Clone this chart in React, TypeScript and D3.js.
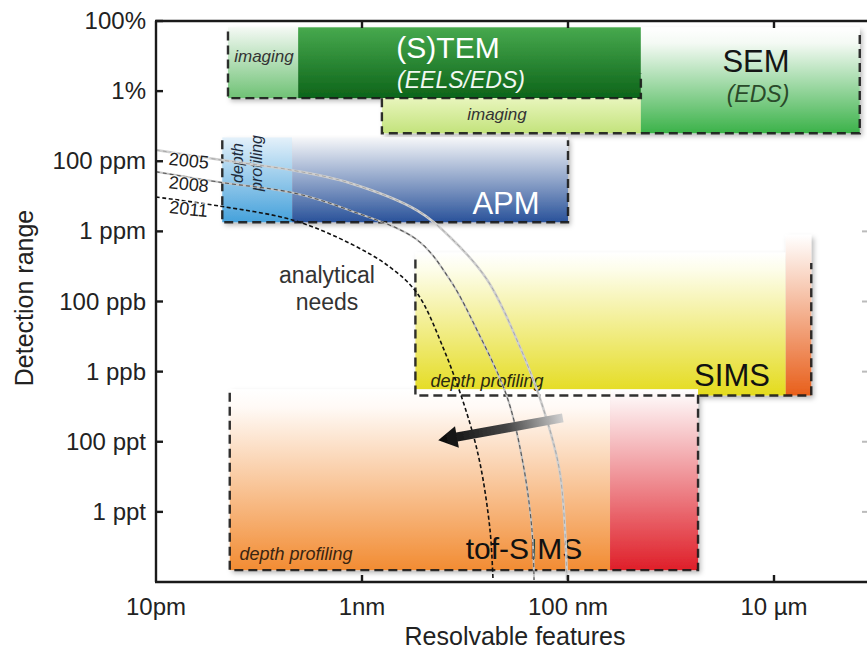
import React from 'react';
import * as d3 from 'd3';

// axis ticks
const xTickValues = [1e-11, 1e-9, 1e-7, 1e-5];
const xTickLabels = ['10pm', '1nm', '100 nm', '10 \u00b5m'];
const yTickLabels = ['100%', '1%', '100 ppm', '1 ppm', '100 ppb', '1 ppb', '100 ppt', '1 ppt'];

// filled regions: size in metres, y in tick-level units (0 = 100%, 1 = 1%, ...)
const regionNames = ['stemImaging', 'stem', 'semImaging', 'sem', 'apmDepth', 'apm', 'sims', 'simsStrip', 'tof', 'tofStrip'];
const regionXFrom = [5e-11, 2.4e-10, 1.56e-9, 5.1e-7, 4.4e-11, 2.1e-10, 3.3e-9, 1.3e-5, 5.2e-11, 2.56e-7];
const regionXTo = [2.4e-10, 5.1e-7, 5.1e-7, 6.8e-5, 2.1e-10, 1e-7, 1.3e-5, 2.3e-5, 2.56e-7, 1.83e-6];
const regionTop = [0.09, 0.09, 1.1, 0.09, 1.66, 1.66, 3.3, 3.05, 5.25, 5.25];
const regionBottom = [1.1, 1.1, 1.6, 1.6, 2.87, 2.87, 5.34, 5.34, 7.83, 7.83];

// dashed outlines (left, bottom, right)
const frameXFrom = [5e-11, 1.56e-9, 4.4e-11, 3.3e-9, 5.2e-11];
const frameXTo = [5.1e-7, 6.8e-5, 1e-7, 2.3e-5, 1.83e-6];
const frameLeftTop = [0.15, 1.1, 1.7, 3.4, 5.3];
const frameRightTop = [0.75, 0.2, 1.7, 3.45, 5.3];
const frameBottom = [1.1, 1.6, 2.87, 5.34, 7.83];

// "analytical needs" curves
const curveYears = ['2005', '2008', '2011'];
const curveSizes = [
  [1e-11, 4.18e-11, 2.14e-10, 7.6e-10, 3.42e-9, 7.14e-9, 1.64e-8, 3.42e-8, 5.71e-8, 8.36e-8, 9.77e-8],
  [1e-11, 4.18e-11, 2.14e-10, 7.6e-10, 3.42e-9, 7.14e-9, 1.31e-8, 2.56e-8, 3.66e-8, 4.47e-8, 4.68e-8],
  [1e-11, 4.18e-11, 2.14e-10, 7.6e-10, 1.87e-9, 3.42e-9, 6.1e-9, 1.04e-8, 1.4e-8, 1.75e-8, 1.87e-8],
];
const curveLevels = [
  [1.84, 1.98, 2.13, 2.31, 2.7, 3.08, 3.69, 4.65, 5.51, 6.45, 7.97],
  [2.15, 2.3, 2.45, 2.7, 3.12, 3.69, 4.41, 5.36, 6.31, 7.26, 7.97],
  [2.51, 2.64, 2.84, 3.17, 3.51, 3.88, 4.65, 5.59, 6.31, 7.26, 7.97],
];

// trend arrow (tail -> head)
const arrowSizes = [8.9e-8, 5.5e-9];
const arrowLevels = [5.66, 5.98];

const regionStops: Record<string, [number, string][]> = {
  stemImaging: [[0, '#f4f9f4'], [1, '#6fc275']],
  stem: [[0, '#47a94e'], [1, '#0d6419']],
  semImaging: [[0, '#e8f5bc'], [1, '#c3e37c']],
  sem: [[0, '#ffffff'], [0.15, '#f4faf4'], [1, '#3bb249']],
  apmDepth: [[0, '#e4f1fa'], [1, '#45a1db']],
  apm: [[0, '#f6f7f9'], [1, '#29529a']],
  sims: [[0, '#ffffff'], [0.12, '#fdfdea'], [1, '#e4db1c']],
  simsStrip: [[0, '#ffffff'], [1, '#e85f1b']],
  tof: [[0, '#ffffff'], [0.1, '#fffaf6'], [1, '#f28c33']],
  tofStrip: [[0, '#ffffff'], [1, '#df1f29']],
};

const W = 867;
const H = 650;
const font = '"Liberation Sans", Arial, sans-serif';

const x = d3.scaleLog().domain([1e-11, 1e-4]).range([156, 877]);
const y = d3.scaleLinear().domain([0, 8]).range([21, 582]);

const App = () => {
  const line = d3.line<[number, number]>()
    .x(d => x(d[0]))
    .y(d => y(d[1]))
    .curve(d3.curveCatmullRom);

  const curvePaths = curveYears.map((_, i) =>
    line(curveSizes[i].map((s, j) => [s, curveLevels[i][j]] as [number, number])) || '');

  // arrow polygon
  const tx = x(arrowSizes[0]), ty = y(arrowLevels[0]);
  const hx = x(arrowSizes[1]), hy = y(arrowLevels[1]);
  const len = Math.hypot(hx - tx, hy - ty);
  const dx = (hx - tx) / len, dy = (hy - ty) / len;
  const nx = -dy, ny = dx;
  const sw = 4.5, hw = 11, hl = 19;
  const bx = hx - dx * hl, by = hy - dy * hl;
  const arrowPts = [
    [tx + nx * sw, ty + ny * sw],
    [bx + nx * sw, by + ny * sw],
    [bx + nx * hw, by + ny * hw],
    [hx, hy],
    [bx - nx * hw, by - ny * hw],
    [bx - nx * sw, by - ny * sw],
    [tx - nx * sw, ty - ny * sw],
  ].map(p => p.join(',')).join(' ');

  const xMax = 867;
  const tickLen = 7;

  return (
    <svg width={W} height={H} style={{ position: 'absolute', left: 0, top: 0, background: '#fff' }} fontFamily={font}>
      <defs>
        {regionNames.map(n => (
          <linearGradient key={n} id={`g-${n}`} x1="0" y1="0" x2="0" y2="1">
            {regionStops[n].map(([o, c], k) => <stop key={k} offset={o} stopColor={c} />)}
          </linearGradient>
        ))}
        <linearGradient id="g-arrow" gradientUnits="userSpaceOnUse" x1={tx} y1={ty} x2={hx} y2={hy}>
          <stop offset="0" stopColor="#d0d0d0" />
          <stop offset="0.45" stopColor="#444" />
          <stop offset="1" stopColor="#0a0a0a" />
        </linearGradient>
        <filter id="shadow" x="-10%" y="-10%" width="120%" height="130%">
          <feDropShadow dx="2.5" dy="3" stdDeviation="2.5" floodColor="#000" floodOpacity="0.28" />
        </filter>
        <filter id="soft" x="-20%" y="-50%" width="140%" height="200%">
          <feGaussianBlur stdDeviation="0.7" />
        </filter>
      </defs>

      {/* filled regions */}
      <g filter="url(#shadow)">
        {regionNames.map((n, i) => (
          <rect key={n}
            x={x(regionXFrom[i])}
            y={y(regionTop[i])}
            width={x(regionXTo[i]) - x(regionXFrom[i])}
            height={y(regionBottom[i]) - y(regionTop[i])}
            fill={`url(#g-${n})`} />
        ))}
      </g>

      {/* dashed outlines */}
      {frameXFrom.map((_, i) => {
        const x0 = x(frameXFrom[i]), x1 = x(frameXTo[i]);
        const yb = y(frameBottom[i]);
        return (
          <path key={i}
            d={`M${x0},${y(frameLeftTop[i])}L${x0},${yb}L${x1},${yb}L${x1},${y(frameRightTop[i])}`}
            fill="none" stroke="#1a1a1a" strokeWidth={2.4} strokeDasharray="9,5" strokeOpacity={0.9} />
        );
      })}

      {/* region labels */}
      <text x={264} y={62} textAnchor="middle" fontSize={17} fontStyle="italic" fill="#333">imaging</text>
      <text x={448} y={58} textAnchor="middle" fontSize={30} fill="#fff">(S)TEM</text>
      <text x={461} y={88} textAnchor="middle" fontSize={23} fontStyle="italic" fill="#f2f8f2">(EELS/EDS)</text>
      <text x={756} y={72} textAnchor="middle" fontSize={31} fill="#151515">SEM</text>
      <text x={758} y={102} textAnchor="middle" fontSize={23} fontStyle="italic" fill="#2a4a2a">(EDS)</text>
      <text x={497} y={120} textAnchor="middle" fontSize={17} fontStyle="italic" fill="#333">imaging</text>

      <text transform="translate(243,163) rotate(-90)" textAnchor="middle" fontSize={16} fontStyle="italic" fill="#1d2a3a">depth</text>
      <text transform="translate(262,163) rotate(-90)" textAnchor="middle" fontSize={16} fontStyle="italic" fill="#1d2a3a">profiling</text>
      <text x={506} y={214} textAnchor="middle" fontSize={31} fill="#fff">APM</text>

      <text x={487} y={387} textAnchor="middle" fontSize={18} fontStyle="italic" fill="#2a2a10">depth profiling</text>
      <text x={732} y={386} textAnchor="middle" fontSize={31} fill="#111">SIMS</text>

      <text x={296} y={560} textAnchor="middle" fontSize={18} fontStyle="italic" fill="#3a2410">depth profiling</text>
      <text x={524} y={559} textAnchor="middle" fontSize={30} fill="#111">tof-SIMS</text>

      <text x={327} y={283} textAnchor="middle" fontSize={23} fill="#333">analytical</text>
      <text x={327} y={310} textAnchor="middle" fontSize={23} fill="#333">needs</text>

      {/* analytical-needs curves */}
      <path d={curvePaths[0]} fill="none" stroke="#cfcfcf" strokeWidth={2.5} />
      <path d={curvePaths[0]} fill="none" stroke="#a8a8a8" strokeWidth={1} strokeDasharray="4,3" />
      <path d={curvePaths[1]} fill="none" stroke="#c4c4c4" strokeWidth={2} />
      <path d={curvePaths[1]} fill="none" stroke="#555" strokeWidth={1.1} strokeDasharray="4,3" />
      <path d={curvePaths[2]} fill="none" stroke="#111" strokeWidth={1.6} strokeDasharray="4,2.5" />

      {curveYears.map((yr, i) => (
        <text key={yr} x={189} y={y(curveLevels[i][1]) + 7 + i * 1}
          textAnchor="middle" fontSize={18} fill="#222"
          transform={`rotate(6,189,${y(curveLevels[i][1])})`}
          stroke="#fff" strokeWidth={2.5} paintOrder="stroke" strokeOpacity={0.7}>{yr}</text>
      ))}

      {/* arrow */}
      <polygon points={arrowPts} fill="url(#g-arrow)" filter="url(#soft)" />

      {/* axes frame */}
      <g stroke="#1a1a1a" strokeWidth={2.4} fill="none">
        <line x1={156} y1={y(0)} x2={156} y2={y(8)} />
        <line x1={155} y1={y(8)} x2={xMax} y2={y(8)} />
        <line x1={155} y1={y(0)} x2={xMax} y2={y(0)} />
        {yTickLabels.map((_, i) => (
          <line key={i} x1={156} x2={156 + tickLen} y1={y(i)} y2={y(i)} />
        ))}
        {xTickValues.slice(1).map((v, i) => (
          <g key={i}>
            <line x1={x(v)} x2={x(v)} y1={y(8)} y2={y(8) - tickLen} />
            <line x1={x(v)} x2={x(v)} y1={y(0)} y2={y(0) + tickLen} />
          </g>
        ))}
      </g>
      <g stroke="#bbb" strokeWidth={2}>
        {yTickLabels.slice(3).map((_, i) => (
          <line key={i} x1={862} x2={867} y1={y(i + 3)} y2={y(i + 3)} />
        ))}
      </g>

      {/* tick labels */}
      {yTickLabels.map((t, i) => (
        <text key={t} x={146} y={y(i) + 8} textAnchor="end" fontSize={24} fill="#222">{t}</text>
      ))}
      {xTickValues.map((v, i) => (
        <text key={i} x={x(v)} y={615} textAnchor="middle" fontSize={24} fill="#222">{xTickLabels[i]}</text>
      ))}

      <text x={515} y={645} textAnchor="middle" fontSize={25} fill="#222">Resolvable features</text>
      <text transform={`translate(33,${y(3.95)}) rotate(-90)`} textAnchor="middle" fontSize={25} fill="#222">Detection range</text>
    </svg>
  );
};

export default App;
